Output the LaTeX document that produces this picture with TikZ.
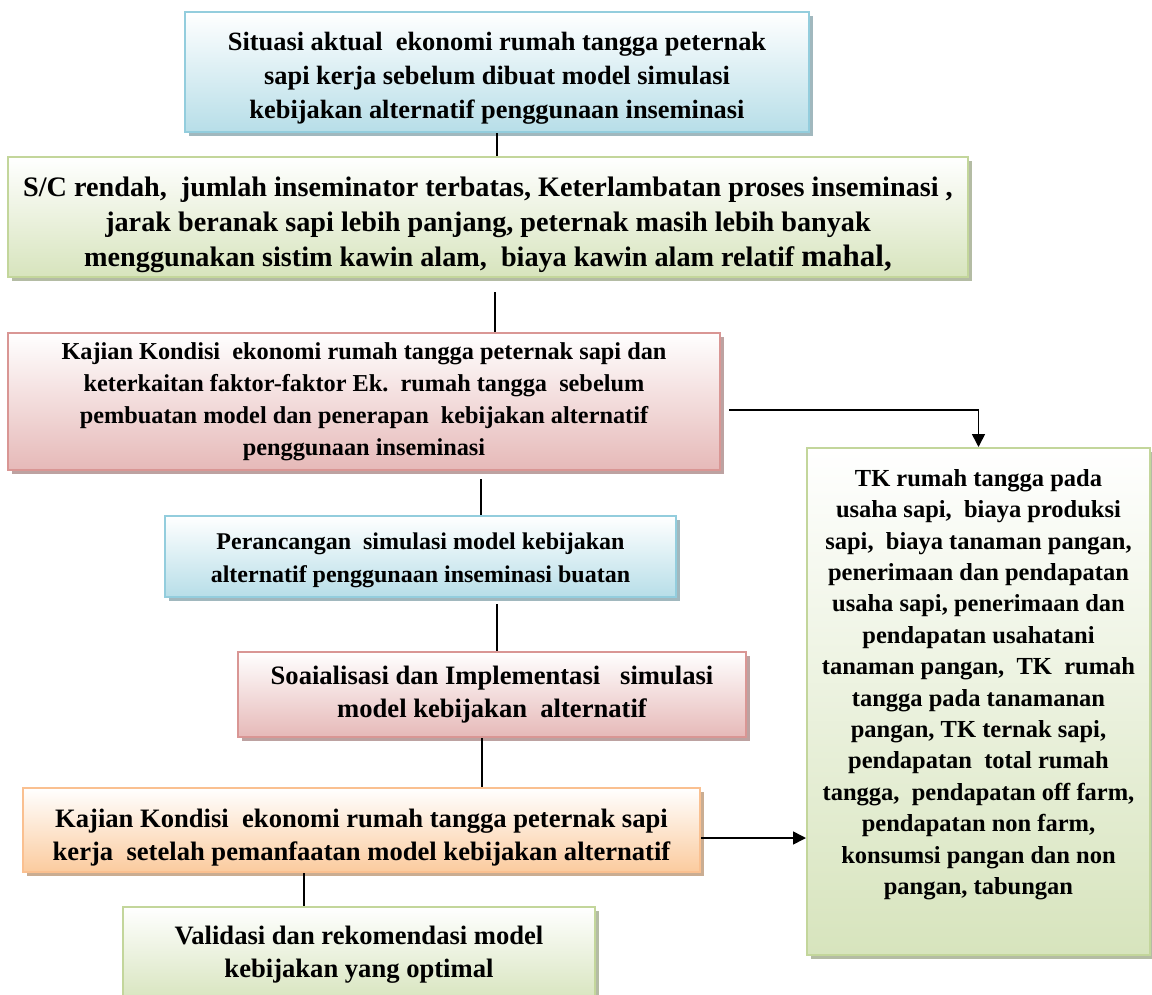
\documentclass[tikz,border=0pt]{standalone}
\usepackage{fontspec}
\setmainfont{Liberation Serif}
\usetikzlibrary{shadows,arrows.meta}
\definecolor{blueLine}{HTML}{93CDDD}
\definecolor{blueFill}{HTML}{B7DEE8}
\definecolor{greenLine}{HTML}{C3D69B}
\definecolor{greenFill}{HTML}{D7E4BD}
\definecolor{redLine}{HTML}{D99694}
\definecolor{redFill}{HTML}{E6B9B8}
\definecolor{orangeLine}{HTML}{FAC090}
\definecolor{orangeFill}{HTML}{FBCB9E}
\tikzset{
  box/.style={draw, line width=2pt, align=center, inner sep=2pt},
  bluebox/.style={box, draw=blueLine, top color=white, bottom color=blueFill,
    drop shadow={shadow xshift=4pt, shadow yshift=-4pt, fill=blueFill!60!gray, opacity=1}},
  greenbox/.style={box, draw=greenLine, top color=white, bottom color=greenFill,
    drop shadow={shadow xshift=4pt, shadow yshift=-4pt, fill=greenFill!60!gray, opacity=1}},
  redbox/.style={box, draw=redLine, top color=white, bottom color=redFill,
    drop shadow={shadow xshift=4pt, shadow yshift=-4pt, fill=redFill!60!gray, opacity=1}},
  orangebox/.style={box, draw=orangeLine, top color=white, bottom color=orangeFill,
    drop shadow={shadow xshift=4pt, shadow yshift=-4pt, fill=orangeFill!60!gray, opacity=1}},
  conn/.style={line width=1.6pt, black},
  arr/.style={conn, -{Triangle[length=13pt,width=13pt]}}
}
\begin{document}
\begin{tikzpicture}[x=1pt,y=-1pt]
\useasboundingbox (0,0) rectangle (1152,994);
\clip (0,0) rectangle (1152,994);

\node[bluebox, minimum width=624pt, minimum height=120pt,
  font=\bfseries\fontsize{26.4}{34}\selectfont] (b1) at (497,72)
  {\rule{0pt}{30pt}Situasi aktual\ \ ekonomi rumah tangga peternak\\
   sapi kerja sebelum dibuat model simulasi\\
   kebijakan alternatif penggunaan inseminasi};

\node[greenbox, minimum width=960pt, minimum height=120pt,
  font=\bfseries\fontsize{28.2}{35}\selectfont] (b2) at (488,217)
  {\rule{0pt}{35pt}S/C rendah,\ \ jumlah inseminator terbatas, Keterlambatan proses inseminasi ,\\
   jarak beranak sapi lebih panjang, peternak masih lebih banyak\\
   menggunakan sistim kawin alam,\ \ biaya kawin alam relatif {\fontsize{31}{35}\selectfont mahal,}};

\node[redbox, minimum width=712pt, minimum height=137pt,
  font=\bfseries\fontsize{24.3}{32}\selectfont] (b3) at (364,401.5)
  {Kajian Kondisi\ \ ekonomi rumah tangga peternak sapi dan\\
   keterkaitan faktor-faktor Ek.\ \ rumah tangga\ \ sebelum\\
   pembuatan model dan penerapan\ \ kebijakan alternatif\\
   penggunaan inseminasi};

\node[bluebox, minimum width=511pt, minimum height=81pt,
  font=\bfseries\fontsize{24}{33}\selectfont] (b4) at (420.5,556.5)
  {\rule{0pt}{24.5pt}Perancangan\ \ simulasi model kebijakan\\
   alternatif penggunaan inseminasi buatan};

\node[redbox, minimum width=508pt, minimum height=85pt,
  font=\bfseries\fontsize{26.6}{33}\selectfont] (b5) at (492,694.5)
  {Soaialisasi dan Implementasi\ \ \ simulasi\\
   model kebijakan\ \ alternatif};

\node[orangebox, minimum width=677pt, minimum height=84pt,
  font=\bfseries\fontsize{26.6}{33}\selectfont] (b6) at (361.5,830)
  {\rule{0pt}{33pt}Kajian Kondisi\ \ ekonomi rumah tangga peternak sapi\\
   kerja\ \ setelah pemanfaatan model kebijakan alternatif};

\node[greenbox, minimum width=472pt, minimum height=95pt,
  font=\bfseries\fontsize{26.6}{33}\selectfont] (b7) at (359,954.5)
  {Validasi dan rekomendasi model\\
   kebijakan yang optimal};

\node[greenbox, minimum width=343pt, minimum height=507pt,
  font=\bfseries\fontsize{24.5}{31.4}\selectfont] (tk) at (978.5,701.5)
  {TK rumah tangga pada\\
   usaha sapi,\ \ biaya produksi\\
   sapi,\ \ biaya tanaman pangan,\\
   penerimaan dan pendapatan\\
   usaha sapi, penerimaan dan\\
   pendapatan usahatani\\
   tanaman pangan,\ \ TK\ \ rumah\\
   tangga pada tanamanan\\
   pangan, TK ternak sapi,\\
   pendapatan\ \ total rumah\\
   tangga,\ \ pendapatan off farm,\\
   pendapatan non farm,\\
   konsumsi pangan dan non\\
   pangan, tabungan\\
   \rule{0pt}{33pt}};

% connectors
\draw[conn] (b1.south) -- (b2.north -| b1.south);
\draw[conn] ([yshift=-14pt]b2.south -| 495,0) -- (b3.north -| 495,0);
\draw[conn] ([yshift=-8pt]b3.south -| 481,0) -- (b4.north -| 481,0);
\draw[conn] ([yshift=-6pt]b4.south -| 497,0) -- (b5.north -| 497,0);
\draw[conn] (b5.south -| 482,0) -- (b6.north -| 482,0);
\draw[conn] (b6.south -| 304,0) -- (b7.north -| 304,0);
\draw[arr] ([xshift=8pt]b3.east |- 0,410) -| (tk.north);
\draw[arr] (b6.east |- 0,838) -- (tk.west |- 0,838);
\end{tikzpicture}
\end{document}
